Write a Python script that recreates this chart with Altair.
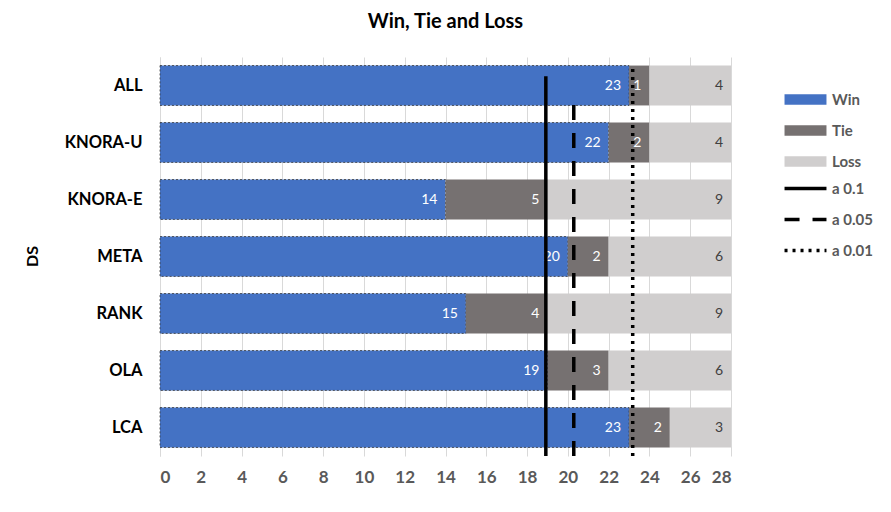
import altair as alt
import pandas as pd

methods = ["ALL", "KNORA-U", "KNORA-E", "META", "RANK", "OLA", "LCA"]
win = [23, 22, 14, 20, 15, 19, 23]
tie = [1, 2, 5, 2, 4, 3, 2]
loss = [4, 4, 9, 6, 9, 6, 3]
series = ["Win", "Tie", "Loss"]
colors = ["#4472C4", "#767171", "#D0CECE"]
x_ticks = list(range(0, 29, 2))

line_names = ["a 0.1", "a 0.05", "a 0.01"]
line_values = [18.92, 20.29, 23.18]
line_tops = [0.952, 0.912, 0.98]

rows = []
for i, m in enumerate(methods):
    for j, (s, v) in enumerate(zip(series, [win[i], tie[i], loss[i]])):
        rows.append({"DS": m, "series": s, "value": v, "ord": j})
df = pd.DataFrame(rows)
lines = pd.DataFrame({"name": line_names, "x": line_values,
                      "top": line_tops, "bottom": [0.0] * len(line_names)})

FONT = "Lato"
GRAY = "#595959"
x_scale = alt.Scale(domain=[0, 28], nice=False)
y_scale = alt.Scale(domain=methods, paddingInner=0.3, paddingOuter=0.15)

bars = alt.Chart(df).mark_bar(strokeDash=[2, 2], strokeWidth=0.8).encode(
    x=alt.X("value:Q", stack="zero", scale=x_scale, title=None,
            axis=alt.Axis(values=x_ticks, grid=True, gridColor="#d9d9d9", domain=False,
                          ticks=False, labelFont=FONT, labelFontSize=17, labelFontWeight="bold",
                          labelColor=GRAY, labelPadding=13)),
    y=alt.Y("DS:N", sort=methods, scale=y_scale,
            axis=alt.Axis(title="DS", ticks=False, domainColor="#d9d9d9", labelFont=FONT,
                          labelFontSize=16.5, labelFontWeight="bold", labelColor="black",
                          labelPadding=18, titleFont=FONT, titleFontSize=16,
                          titleFontWeight="bold", titleColor="black", titleX=-120, titleY=199)),
    fill=alt.Fill("series:N", scale=alt.Scale(domain=series, range=colors),
                  legend=alt.Legend(title=None, orient="none", legendX=638, legendY=35,
                                    symbolType="M-4,-1H4V1H-4Z", symbolSize=110,
                                    symbolStrokeWidth=0, labelOffset=19,
                                    labelFont=FONT, labelFontSize=15, labelFontWeight="bold",
                                    labelColor=GRAY, rowPadding=15)),
    stroke=alt.condition("datum.series === 'Win'", alt.value("#3a3a3a"), alt.value("transparent")),
    order=alt.Order("ord:Q"),
)

text = alt.Chart(df).transform_window(
    cum="sum(value)", groupby=["DS"], sort=[alt.SortField("ord")], frame=[None, 0]
).mark_text(align="right", baseline="middle", dx=-8, fontSize=14, font=FONT).encode(
    x=alt.X("cum:Q", scale=x_scale),
    y=alt.Y("DS:N", sort=methods, scale=y_scale, axis=None),
    text="value:Q",
    color=alt.condition("datum.series === 'Loss'", alt.value("#404040"), alt.value("white")),
)

rules = alt.Chart(lines).mark_rule(color="black", strokeWidth=3.5).encode(
    x=alt.X("x:Q", scale=x_scale),
    y=alt.Y("bottom:Q", scale=alt.Scale(domain=[0, 1]), axis=None),
    y2="top:Q",
    strokeDash=alt.StrokeDash(
        "name:N",
        scale=alt.Scale(domain=line_names, range=[[1, 0], [15, 13], [3, 5]]),
        legend=alt.Legend(title=None, orient="none", legendX=638, legendY=124,
                          symbolType="M-4,0H4", symbolSize=110, symbolStrokeWidth=3.5,
                          symbolStrokeColor="black", labelOffset=19,
                          labelFont=FONT, labelFontSize=15, labelFontWeight="bold",
                          labelColor=GRAY, rowPadding=15)),
)

chart = alt.layer(bars, text, rules).resolve_scale(y="independent").properties(
    width=571, height=399,
    autosize=alt.AutoSizeParams(type="none"),
    padding={"left": 152, "top": 49, "right": 152, "bottom": 48},
    title=alt.Title("Win, Tie and Loss", font=FONT, fontSize=20, fontWeight="bold",
                    color="black", anchor="middle", offset=25),
).configure_view(stroke=None)

chart.save("out.html", embed_options={"renderer": "svg", "actions": False})
